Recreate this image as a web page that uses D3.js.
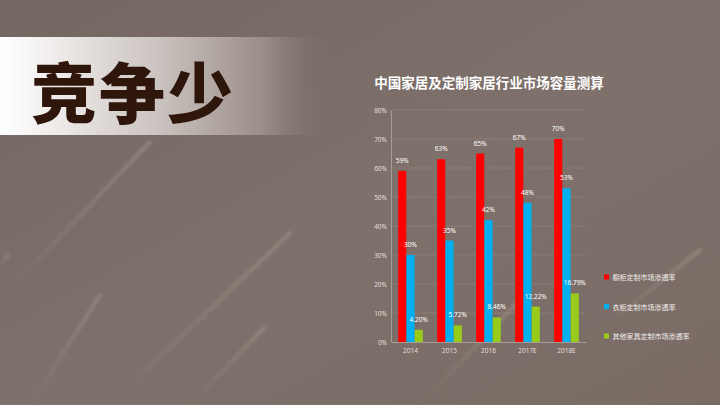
<!DOCTYPE html>
<html>
<head>
<meta charset="utf-8">
<script src="https://cdn.jsdelivr.net/npm/d3@7"></script>
<style>
  html, body { margin: 0; padding: 0; background: #7b6d66; }
  svg { display: block; }
</style>
</head>
<body>
<div id="chart"></div>
<script>
// data
const years = ["2014", "2015", "2016", "2017E", "2018E"];
const seriesNames = ["橱柜定制市场渗透率", "衣柜定制市场渗透率", "其他家具定制市场渗透率"];
const cabinetRate = [59, 63, 65, 67, 70];
const wardrobeRate = [30, 35, 42, 48, 53];
const otherRate = [4.20, 5.72, 8.46, 12.22, 16.79];
const otherLabels = ["4.20%", "5.72%", "8.46%", "12.22%", "16.79%"];
const yTicks = [0, 10, 20, 30, 40, 50, 60, 70, 80];
const colors = ["#ff0000", "#00b0f0", "#99cc1a"];

const W = 720, H = 405;
const svg = d3.select("#chart").append("svg")
  .attr("width", W).attr("height", H);

const defs = svg.append("defs");

// background
const bg = defs.append("linearGradient").attr("id", "bg")
  .attr("x1", "0").attr("y1", "0").attr("x2", "1").attr("y2", "1");
bg.append("stop").attr("offset", "0").attr("stop-color", "#746661");
bg.append("stop").attr("offset", "0.5").attr("stop-color", "#7e706a");
bg.append("stop").attr("offset", "1").attr("stop-color", "#7a6c65");
svg.append("rect").attr("width", W).attr("height", H).attr("fill", "url(#bg)");

// soft diagonal streaks
defs.append("filter").attr("id", "soft")
  .append("feGaussianBlur").attr("stdDeviation", 1.6);
const streak = defs.append("linearGradient").attr("id", "streak")
  .attr("x1", "0").attr("y1", "1").attr("x2", "1").attr("y2", "0");
streak.append("stop").attr("offset", "0").attr("stop-color", "#a0928a").attr("stop-opacity", 0);
streak.append("stop").attr("offset", "1").attr("stop-color", "#a0928a").attr("stop-opacity", 0.6);
const streaks = [
  [0, 300, 150, 142], [0, 265, 8, 255], [30, 405, 100, 295],
  [110, 405, 290, 233], [190, 405, 265, 327], [420, 405, 520, 300],
  [600, 330, 700, 250]
];
svg.append("g").attr("filter", "url(#soft)").selectAll("line").data(streaks).join("line")
  .attr("x1", d => d[0]).attr("y1", d => d[1])
  .attr("x2", d => d[2]).attr("y2", d => d[3])
  .attr("stroke", "url(#streak)").attr("stroke-width", 4)
  .attr("stroke-linecap", "round");

// heading banner
const banner = defs.append("linearGradient").attr("id", "banner")
  .attr("x1", "0").attr("y1", "0").attr("x2", "1").attr("y2", "0");
banner.append("stop").attr("offset", "0").attr("stop-color", "#ffffff");
banner.append("stop").attr("offset", "0.12").attr("stop-color", "#f4f2f1");
banner.append("stop").attr("offset", "0.5").attr("stop-color", "#c8c0bc");
banner.append("stop").attr("offset", "0.8").attr("stop-color", "#9a8d87");
banner.append("stop").attr("offset", "1").attr("stop-color", "#7c6e67").attr("stop-opacity", 0);
svg.append("rect").attr("x", 0).attr("y", 37).attr("width", 330).attr("height", 98)
  .attr("fill", "url(#banner)");

svg.append("text")
  .attr("x", 31).attr("y", 89)
  .attr("dominant-baseline", "central")
  .attr("font-family", "'Noto Sans CJK SC', sans-serif")
  .attr("font-weight", "900")
  .attr("font-size", 66)
  .attr("letter-spacing", 2)
  .attr("fill", "#2e160b")
  .text("竞争少");

// chart title
svg.append("text")
  .attr("x", 489).attr("y", 82)
  .attr("text-anchor", "middle").attr("dominant-baseline", "central")
  .attr("font-family", "'Noto Sans CJK SC', sans-serif")
  .attr("font-weight", "bold")
  .attr("font-size", 13.5)
  .attr("fill", "#ffffff")
  .text("中国家居及定制家居行业市场容量测算");

// scales
const x0 = d3.scaleBand().domain(years).range([391, 586])
  .paddingInner(0.36).paddingOuter(0.18);
const x1 = d3.scaleBand().domain(d3.range(3)).range([0, x0.bandwidth()]).padding(0.02);
const y = d3.scaleLinear().domain([0, 80]).range([342, 110]);

// grid
svg.append("g").selectAll("line").data(yTicks.slice(1)).join("line")
  .attr("x1", 391).attr("x2", 586)
  .attr("y1", d => y(d)).attr("y2", d => y(d))
  .attr("stroke", "#ffffff").attr("stroke-opacity", 0.13).attr("stroke-width", 0.8);

// axes
const yAxis = svg.append("g")
  .attr("transform", "translate(391,0)")
  .call(d3.axisLeft(y).tickValues(yTicks).tickFormat(d => d + "%").tickSize(0).tickPadding(4));
yAxis.select(".domain").attr("stroke", "#b3a8a2").attr("stroke-width", 0.8);
yAxis.selectAll("text")
  .attr("fill", "#e4dfdc").attr("font-size", 6.5)
  .attr("font-family", "'Noto Sans', sans-serif");

const xAxis = svg.append("g")
  .attr("transform", "translate(0,342)")
  .call(d3.axisBottom(x0).tickSize(0).tickPadding(6));
xAxis.select(".domain").attr("stroke", "#b3a8a2").attr("stroke-width", 0.8);
xAxis.selectAll("text")
  .attr("fill", "#e4dfdc").attr("font-size", 6.5)
  .attr("font-family", "'Noto Sans', sans-serif");

// bars
const allSeries = [cabinetRate, wardrobeRate, otherRate];
const barData = [];
allSeries.forEach((vals, s) => vals.forEach((v, i) => {
  barData.push({
    year: years[i], s: s, v: v,
    label: s === 2 ? otherLabels[i] : v + "%"
  });
}));

svg.append("g").selectAll("rect").data(barData).join("rect")
  .attr("x", d => x0(d.year) + x1(d.s))
  .attr("y", d => y(d.v))
  .attr("width", x1.bandwidth())
  .attr("height", d => y(0) - y(d.v))
  .attr("fill", d => colors[d.s]);

svg.append("g").selectAll("text").data(barData).join("text")
  .attr("x", d => x0(d.year) + x1(d.s) + x1.bandwidth() / 2)
  .attr("y", d => y(d.v) - 8)
  .attr("text-anchor", "middle")
  .attr("font-family", "'Noto Sans', sans-serif")
  .attr("font-size", 6.5)
  .attr("fill", "#ffffff")
  .text(d => d.label);

// legend
const legendY = [277, 306.5, 336];
const legend = svg.append("g").selectAll("g").data(seriesNames).join("g")
  .attr("transform", (d, i) => `translate(604,${legendY[i]})`);
legend.append("rect")
  .attr("x", 0).attr("y", -2.5).attr("width", 5).attr("height", 5)
  .attr("fill", (d, i) => colors[i]);
legend.append("text")
  .attr("x", 8.5).attr("y", 0)
  .attr("dominant-baseline", "central")
  .attr("font-family", "'Noto Sans CJK SC', sans-serif")
  .attr("font-size", 7)
  .attr("fill", "#f2eeec")
  .text(d => d);
</script>
</body>
</html>
